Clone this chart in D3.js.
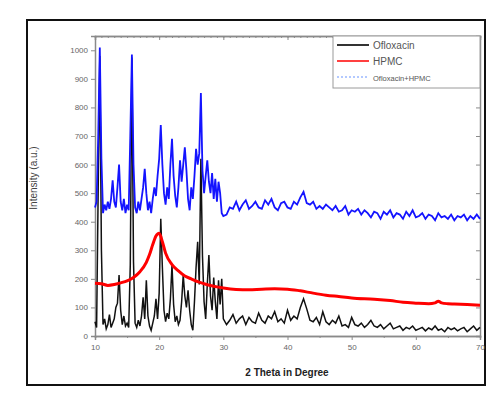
<!DOCTYPE html>
<meta charset="utf-8">
<style>
body { margin: 0; background: #fff; }
.tick text { font-family: Arial, sans-serif; font-size: 8px; fill: #666; }
.axis path, .axis line { stroke: #8a8a8a; }
.legend text { font-family: Arial, sans-serif; fill: #555; }
</style>
<svg width="500" height="393"></svg>
<script src="https://cdn.jsdelivr.net/npm/d3@7"></script>
<script>

// scan grid: 0.25 deg steps up to 30, 0.5 deg after
var scanA = d3.range(10, 30.001, 0.25),
    scanB = d3.range(30.5, 70.001, 0.5);

// Ofloxacin (black)
var oflox = [
  50,30,520,980,300, 40,60,25,40,75, 30,45,60,100,115, 213,90,40,70,35,
  45,30,250,975,260, 45,30,55,35,70, 135,60,195,70,35, 20,45,70,130,60,
  150,410,240,90,50, 80,60,130,248,110, 50,70,40,55,120, 213,140,100,160,90,
  40,20,120,240,330, 180,620,280,120,60, 180,283,140,90,205, 120,60,195,110,200,
  60,
  40,55,75,45,60,70,40,65,50,45, 80,55,45,70,60,85,50,60,45,90,
  55,70,60,100,130,95,55,50,65,40, 85,50,40,55,45,70,35,40,30,65,
  40,35,45,30,40,55,35,30,40,25, 35,45,25,30,35,20,30,25,35,20,
  25,30,18,28,22,35,20,25,15,30, 22,28,18,25,30,15,25,35,20,30
];

// Ofloxacin + HPMC (blue)
var mix = [
  450,470,700,1010,620, 430,460,440,470,445, 480,545,470,450,520, 600,470,440,480,430,
  460,440,700,985,600, 450,430,470,440,480, 520,585,500,440,470, 430,480,520,490,560,
  620,738,600,500,460, 520,480,600,690,560, 490,450,520,615,540, 600,660,580,480,440,
  520,480,560,655,600, 640,850,580,500,560, 615,540,500,570,480, 550,470,540,500,430,
  420,
  425,450,445,470,440,460,475,445,455,470, 450,445,475,460,480,450,440,465,470,450,
  445,470,460,485,505,465,460,470,445,455, 445,460,450,440,455,435,440,455,425,440,
  435,445,425,440,430,415,435,430,410,435, 425,440,415,430,425,410,435,420,440,415,
  420,430,410,425,420,405,430,415,420,410, 425,405,420,415,425,405,420,410,425,410
];

// HPMC (red)
var hpmcTheta = [10,11,12,13,14,15,16,17,18,18.5,19,19.5,20,20.5,21,22,23,24,25,26,27,28,29,30,
                 32,34,36,38,40,42,44,46,48,50,52,54,56,58,60,62,63,63.5,64,65,66,68,70];
var hpmc = [185,183,177,180,186,193,205,225,258,285,320,350,360,330,290,250,228,210,200,190,183,177,172,168,
            163,162,164,165,164,158,150,143,138,133,130,128,124,118,115,113,116,122,116,113,112,110,108];

var xTicks = [10,20,30,40,50,60,70];
var yTicks = [0,100,200,300,400,500,600,700,800,900,1000];

var svg = d3.select("svg");
var plotL = 95, plotR = 480, plotT = 36, plotB = 336;

var x = d3.scaleLinear().domain([10, 70]).range([plotL, plotR]);
var y = d3.scaleLinear().domain([0, 1050]).range([plotB, plotT]);

var scan = scanA.concat(scanB);
var line = d3.line().x(function(d) { return x(d[0]); }).y(function(d) { return y(d[1]); });

// outer frame
svg.append("rect").attr("x", 27).attr("y", 20).attr("width", 458).attr("height", 365)
    .attr("fill", "none").attr("stroke", "#111").attr("stroke-width", 2);

// axes
svg.append("g").attr("class", "axis").attr("transform", "translate(0," + plotB + ")")
    .call(d3.axisBottom(x).tickValues(xTicks).tickSize(4).tickPadding(4).tickFormat(d3.format("d")));
svg.append("g").attr("class", "axis").attr("transform", "translate(0," + plotB + ")")
    .call(d3.axisBottom(x).tickValues(d3.range(15, 70, 10)).tickSize(2).tickFormat(""));
svg.append("g").attr("class", "axis").attr("transform", "translate(" + plotL + ",0)")
    .call(d3.axisLeft(y).tickValues(yTicks).tickSize(4).tickPadding(3).tickFormat(d3.format("d")));
svg.append("g").attr("class", "axis").attr("transform", "translate(0," + plotT + ")")
    .call(d3.axisBottom(x).tickValues(xTicks).tickSize(4).tickFormat(""));
svg.append("g").attr("class", "axis").attr("transform", "translate(0," + plotT + ")")
    .call(d3.axisBottom(x).ticks(60).tickSize(2).tickFormat(""));
svg.append("g").attr("class", "axis").attr("transform", "translate(" + plotR + ",0)")
    .call(d3.axisLeft(y).tickValues(yTicks).tickSize(4).tickFormat(""));
svg.selectAll(".axis .domain").attr("stroke-width", 1.5);

// series
svg.append("path").datum(d3.zip(scan, oflox)).attr("d", line)
    .attr("fill", "none").attr("stroke", "#111").attr("stroke-width", 1.5);
svg.append("path").datum(d3.zip(hpmcTheta, hpmc)).attr("d", line.curve(d3.curveMonotoneX))
    .attr("fill", "none").attr("stroke", "#ff0000").attr("stroke-width", 3);
line.curve(d3.curveLinear);
svg.append("path").datum(d3.zip(scan, mix)).attr("d", line)
    .attr("fill", "none").attr("stroke", "#1414ff").attr("stroke-width", 1.8);

// legend
var lg = svg.append("g").attr("class", "legend");
lg.append("rect").attr("x", 333).attr("y", 36).attr("width", 147).attr("height", 52)
    .attr("fill", "#fff").attr("stroke", "#9a9a9a");
var items = [
  {name: "Ofloxacin", color: "#333", dash: null, size: 10, w: 2},
  {name: "HPMC", color: "#ff4040", dash: null, size: 10, w: 2},
  {name: "Ofloxacin+HPMC", color: "#9ab8ff", dash: "2,2", size: 7.5, w: 1.5}
];
items.forEach(function(d, i) {
  var yy = 45 + i * 16;
  lg.append("line").attr("x1", 337).attr("x2", 369).attr("y1", yy).attr("y2", yy)
      .attr("stroke", d.color).attr("stroke-width", d.w).attr("stroke-dasharray", d.dash);
  lg.append("text").attr("x", 373).attr("y", yy + 3.5).attr("font-size", d.size).text(d.name);
});

// axis titles
svg.append("text").attr("x", 287).attr("y", 376).attr("text-anchor", "middle")
    .attr("font-family", "Arial, sans-serif").attr("font-size", 10).attr("font-weight", "bold")
    .attr("fill", "#222").text("2 Theta in Degree");
svg.append("text").attr("transform", "translate(37,178) rotate(-90)").attr("text-anchor", "middle")
    .attr("font-family", "Arial, sans-serif").attr("font-size", 10)
    .attr("fill", "#444").text("Intensity (a.u.)");

</script>
